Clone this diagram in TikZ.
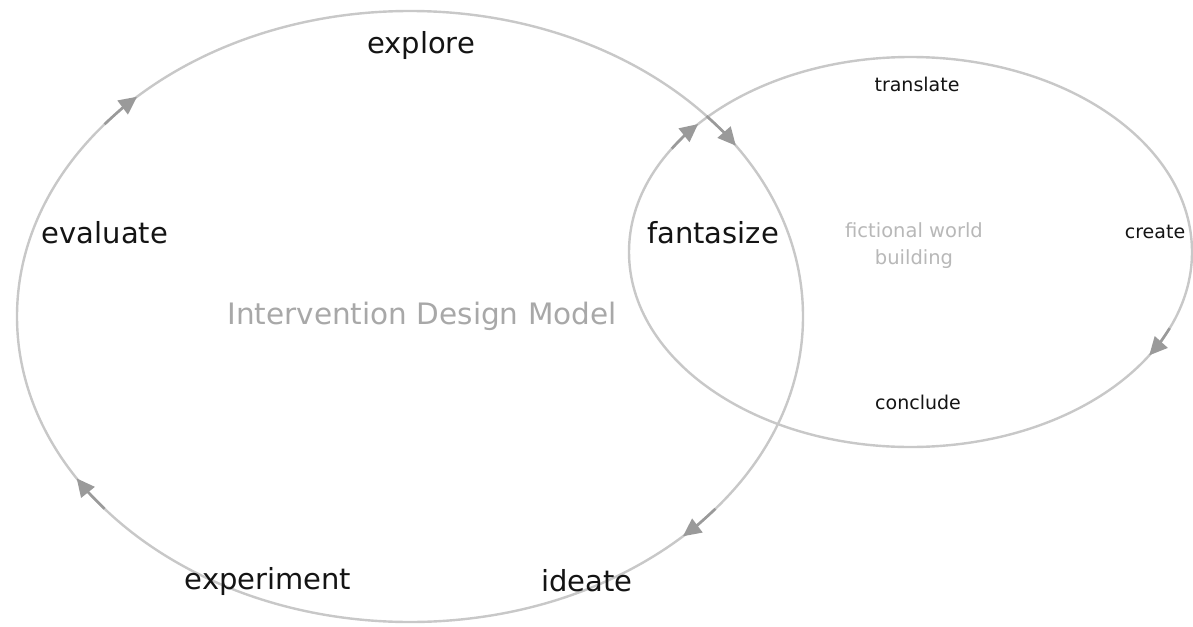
\documentclass[tikz,border=0pt]{standalone}
\usepackage{fontspec}
\setmainfont{DejaVu Sans}
\usetikzlibrary{arrows.meta}
\definecolor{ringgray}{HTML}{C8C8C8}
\definecolor{tipgray}{HTML}{9A9A9A}
\definecolor{titlegray}{HTML}{A8A8A8}
\definecolor{subgray}{HTML}{B8B8B8}
\definecolor{labelblack}{HTML}{141414}
\tikzset{
  ring/.style={draw=ringgray, line width=2.4pt},
  cyctip/.style={draw=tipgray, line width=2.6pt, -{Triangle[length=18pt, width=17pt, fill=tipgray]}},
  biglabel/.style={text=labelblack, font=\fontsize{29}{32}\selectfont, inner sep=0pt},
  smalllabel/.style={text=labelblack, font=\fontsize{19}{21}\selectfont, inner sep=0pt},
  titlelabel/.style={text=titlegray, font=\fontsize{29.5}{32}\selectfont, inner sep=0pt},
  sublabel/.style={text=subgray, font=\fontsize{19.5}{27}\selectfont, inner sep=0pt, align=center}
}
\begin{document}
\begin{tikzpicture}[x=1pt, y=-1pt]
\useasboundingbox (0,0) rectangle (1193,626);
\fill[white] (0,0) rectangle (1193,626);
% centres
\coordinate (big) at (410,316.5);
\coordinate (small) at (910.5,252);
% ellipses
\draw[ring] (big) ellipse [x radius=393, y radius=305.5];
\draw[ring] (small) ellipse [x radius=281.5, y radius=195];
% arrowheads on big ellipse (clockwise)
\draw[cyctip] (big) ++(219:393 and 305.5) arc[start angle=219, end angle=226, x radius=393, y radius=305.5];
\draw[cyctip] (big) ++(319:393 and 305.5) arc[start angle=319, end angle=326, x radius=393, y radius=305.5];
\draw[cyctip] (big) ++(39:393 and 305.5) arc[start angle=39, end angle=46, x radius=393, y radius=305.5];
\draw[cyctip] (big) ++(141:393 and 305.5) arc[start angle=141, end angle=148, x radius=393, y radius=305.5];
% arrowheads on small ellipse
\draw[cyctip] (small) ++(212:281.5 and 195) arc[start angle=212, end angle=221, x radius=281.5, y radius=195];
\draw[cyctip] (small) ++(23:281.5 and 195) arc[start angle=23, end angle=32, x radius=281.5, y radius=195];
% labels
\node[biglabel] (explore) at (421,45) {explore};
\node[biglabel] (evaluate) at (105,233) {evaluate};
\node[biglabel] (fantasize) at (713,233) {fantasize};
\node[biglabel] (experiment) at (268,581) {experiment};
\node[biglabel] (ideate) at (587,581) {ideate};
\node[titlelabel] (title) at (422,316) {Intervention Design Model};
\node[smalllabel] (translate) at (917,84) {translate};
\node[smalllabel] (create) at (1155,232) {create};
\node[smalllabel] (conclude) at (918,402) {conclude};
\node[sublabel] (fwb) at (914,246) {fictional world\\building};
\end{tikzpicture}
\end{document}
